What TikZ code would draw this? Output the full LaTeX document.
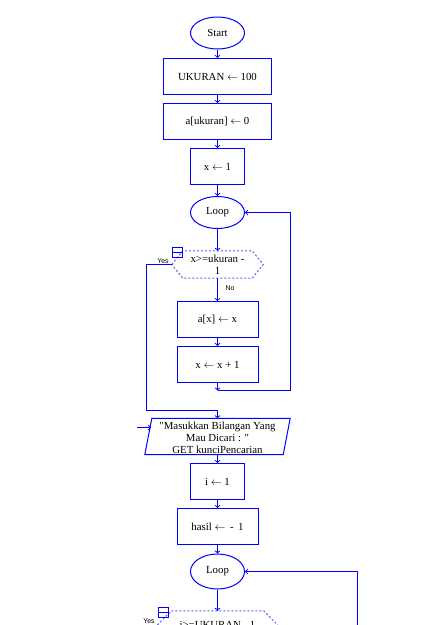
\documentclass[tikz,border=0pt]{standalone}
\usepackage{fontspec}
\setmainfont{Liberation Serif}
\newfontfamily\tagfont{Liberation Sans}
\usepackage{xcolor}
\usetikzlibrary{arrows}
\usetikzlibrary{shapes.geometric}

\begin{document}
\begin{tikzpicture}[x=1pt, y=-1pt, font=\fontsize{10.8}{11.8}\selectfont]
			\definecolor{BLUE}{RGB}{0, 0, 255}
			\definecolor{DASHBLUE}{RGB}{90, 90, 255}
			\tikzset{
				terminal/.style={draw, color=BLUE, text=black, line width=1pt, ellipse, minimum width=54pt, minimum height=32pt, inner sep=0pt},
				process/.style={draw, color=BLUE, text=black, line width=1pt, rectangle, minimum height=36pt, inner sep=2pt},
				plain/.style={rectangle, inner sep=0pt, align=center},
				hexline/.style={color=DASHBLUE, line width=1pt, dash pattern=on 2pt off 2pt},
				flow/.style={-to, draw=BLUE, color=BLUE, line width=1pt},
				wire/.style={-, color=BLUE, line width=1pt},
				tag/.style={font=\tagfont\fontsize{7}{8}\selectfont, inner sep=0pt},
			}
			\useasboundingbox (0,0) rectangle (422,625);
			\clip (0,0) rectangle (422,625);
			% nodes
			\node[terminal] (n01) at (217.500,  33.000) {Start};
			\node[process, minimum width=108pt] (n02) at (217.500,  76.500) {UKURAN $\leftarrow$ 100};
			\node[process, minimum width=108pt] (n03) at (217.500, 121.500) {a[ukuran] $\leftarrow$ 0};
			\node[process, minimum width=54pt] (n04) at (217.500, 166.500) {x $\leftarrow$ 1};
			\node[terminal] (n05) at (217.500, 212.500) {Loop};
			\node[plain, minimum width=91pt, minimum height=27pt] (n06) at (217.500, 264.500) {x>=ukuran -\\1};
			\node[process, minimum width=81pt] (n07) at (217.500, 319.500) {a[x] $\leftarrow$ x};
			\node[process, minimum width=81pt] (n08) at (217.500, 364.500) {x $\leftarrow$ x + 1};
			\node[plain, minimum width=138pt, minimum height=36pt] (n09) at (217.500, 437.500) {\textquotedbl Masukkan Bilangan Yang\\Mau Dicari : \textquotedbl\\GET kunciPencarian};
			\node[process, minimum width=54pt] (n10) at (217.500, 481.500) {i $\leftarrow$ 1};
			\node[process, minimum width=81pt] (n11) at (217.500, 526.500) {hasil $\leftarrow$ \,-\, 1};
			\node[terminal, minimum height=35pt] (n12) at (217.500, 571.500) {Loop};
			\node[plain, minimum width=110pt, minimum height=28pt] (n13) at (217.500, 625.000) {i>=UKURAN - 1};
			% labels
			\node[tag] (t01) at (163.000, 261.000) {Yes};
			\node[tag] (t02) at (230.000, 288.000) {No};
			\node[tag] (t03) at (149.000, 621.000) {Yes};
			% bends
			\coordinate (c01) at (217.500, 390.500);
			\coordinate (c02) at (290.500, 212.500);
			\coordinate (c03) at (146.500, 410.500);
			\coordinate (c04) at (217.500, 410.500);
			\coordinate (c05) at (137.000, 427.500);
			\coordinate (c06) at (151.000, 427.500);
			\coordinate (c07) at (357.500, 640.000);
			% shapes
			\draw[hexline] (n06.west) -- ([xshift=11pt]n06.north west) -- ([xshift=-11pt]n06.north east) -- (n06.east) -- ([xshift=-11pt]n06.south east) -- ([xshift=11pt]n06.south west) -- cycle;
			\draw[hexline] ([xshift=-5pt]n13.west) -- ([xshift=9pt]n13.north west) -- ([xshift=-9pt]n13.north east) -- ([xshift=5pt]n13.east) -- ([xshift=-9pt]n13.south east) -- ([xshift=9pt]n13.south west) -- cycle;
			\draw[wire] ([xshift=-3.5pt,yshift=1pt]n09.south west) -- ([xshift=3.5pt,yshift=1pt]n09.north west) -- ([xshift=3.5pt,yshift=1pt]n09.north east) -- ([xshift=-3.5pt,yshift=1pt]n09.south east) -- cycle;
			\draw[wire] (172.5,247.5) rectangle (182.5,257.5) (172.5,252.5) -- (182.5,252.5);
			\draw[wire] (158.5,607.5) rectangle (168.5,617.5) (158.5,612.5) -- (168.5,612.5);
			% connectors
			\draw[flow] (n01) to (n02);
			\draw[flow] (n02) to (n03);
			\draw[flow] (n03) to (n04);
			\draw[flow] (n04) to (n05);
			\draw[flow] (n05) to (n06.north);
			\draw[flow] (n06.south) to (n07);
			\draw[flow] (n07) to (n08);
			\draw[flow] (n08) to (c01);
			\draw[flow] (c01) -| (c02) -- (n05);
			\draw[flow] (n06.west) -| (c03) -- (c04) -- ([yshift=1pt]n09.north);
			\draw[flow] (c05) to (c06);
			\draw[flow] ([yshift=1pt]n09.south) to (n10);
			\draw[flow] (n10) to (n11);
			\draw[flow] (n11) to (n12);
			\draw[flow] (n12) to (n13.north);
			\draw[flow] (c07) |- (n12);
		\end{tikzpicture}
\end{document}
